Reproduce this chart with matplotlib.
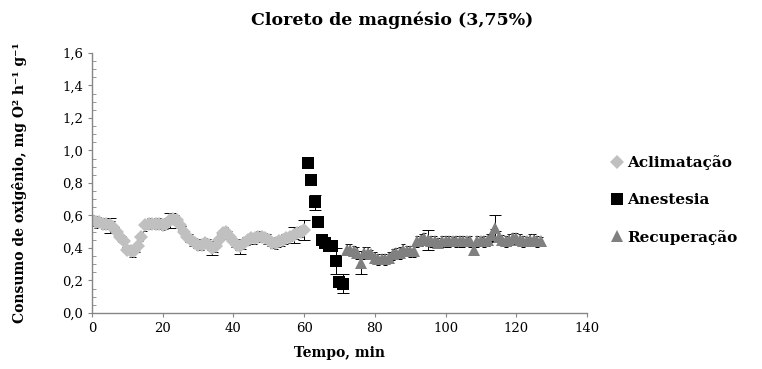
import matplotlib
matplotlib.use("Agg")
import matplotlib.pyplot as plt
from matplotlib.ticker import MultipleLocator, FuncFormatter

# consumo de oxigênio por minuto (média e erro padrão)
acl_t = list(range(0, 61))
acl_v = [0.57, 0.56, 0.56, 0.55, 0.55, 0.54, 0.53, 0.50, 0.47, 0.44,
         0.39, 0.38, 0.38, 0.41, 0.47, 0.54, 0.55, 0.55, 0.55, 0.55,
         0.54, 0.55, 0.57, 0.58, 0.57, 0.54, 0.50, 0.47, 0.45, 0.43,
         0.42, 0.42, 0.43, 0.42, 0.40, 0.41, 0.45, 0.49, 0.50, 0.47,
         0.44, 0.42, 0.41, 0.43, 0.45, 0.46, 0.46, 0.47, 0.47, 0.46,
         0.45, 0.43, 0.43, 0.44, 0.45, 0.46, 0.47, 0.48, 0.49, 0.50, 0.51]
acl_e = [0.035, 0.035, 0.03, 0.035, 0.035, 0.045, 0.035, 0.03, 0.035, 0.035,
         0.03, 0.035, 0.035, 0.035, 0.03, 0.035, 0.035, 0.03, 0.035, 0.035,
         0.03, 0.035, 0.045, 0.035, 0.035, 0.03, 0.035, 0.035, 0.035, 0.03,
         0.035, 0.035, 0.03, 0.035, 0.045, 0.035, 0.035, 0.035, 0.03, 0.035,
         0.035, 0.035, 0.045, 0.035, 0.03, 0.035, 0.035, 0.035, 0.03, 0.035,
         0.035, 0.03, 0.035, 0.035, 0.035, 0.035, 0.03, 0.05, 0.035, 0.035, 0.06]

ane_t = list(range(61, 72))
ane_v = [0.92, 0.82, 0.68, 0.56, 0.45, 0.43, 0.41, 0.41, 0.32, 0.19, 0.18]
ane_e = [0.03, 0.03, 0.045, 0.03, 0.03, 0.03, 0.03, 0.03, 0.08, 0.03, 0.06]

rec_t = list(range(72, 128))
rec_v = [0.39, 0.39, 0.38, 0.37, 0.31, 0.37, 0.37, 0.36, 0.34, 0.33,
         0.33, 0.33, 0.34, 0.36, 0.37, 0.37, 0.39, 0.38, 0.38, 0.38,
         0.44, 0.45, 0.46, 0.45, 0.44, 0.44, 0.43, 0.44, 0.44, 0.44,
         0.44, 0.44, 0.44, 0.44, 0.44, 0.44, 0.39, 0.44, 0.44, 0.44,
         0.45, 0.48, 0.52, 0.47, 0.45, 0.44, 0.45, 0.46, 0.46, 0.45,
         0.44, 0.44, 0.45, 0.45, 0.44, 0.44]
rec_e = [0.035, 0.035, 0.03, 0.035, 0.07, 0.035, 0.035, 0.03, 0.035, 0.035,
         0.03, 0.035, 0.035, 0.035, 0.03, 0.035, 0.035, 0.03, 0.035, 0.035,
         0.035, 0.035, 0.03, 0.06, 0.035, 0.035, 0.03, 0.035, 0.035, 0.035,
         0.03, 0.035, 0.035, 0.035, 0.03, 0.035, 0.035, 0.035, 0.03, 0.035,
         0.035, 0.035, 0.085, 0.035, 0.03, 0.035, 0.035, 0.035, 0.03, 0.035,
         0.035, 0.03, 0.035, 0.035, 0.035, 0.03]

plt.rcParams['font.family'] = 'DejaVu Serif'
fig = plt.figure(figsize=(7.62, 3.69), dpi=100)
ax = fig.add_axes([0.1207, 0.1518, 0.6496, 0.7046])

series = [
    (acl_t, acl_v, acl_e, 'D', 7.0, '#C0C0C0', 'Aclimatação'),
    (ane_t, ane_v, ane_e, 's', 8.0, '#000000', 'Anestesia'),
    (rec_t, rec_v, rec_e, '^', 9.0, '#808080', 'Recuperação'),
]
for t, v, e, mk, ms, col, lab in series:
    # barras de erro por baixo dos marcadores; as maiores com traço mais largo
    big = [i for i, x in enumerate(e) if x >= 0.045]
    small = [i for i, x in enumerate(e) if x < 0.045]
    for idx, cap in ((small, 1.5), (big, 4)):
        ax.errorbar([t[i] for i in idx], [v[i] for i in idx],
                    yerr=[e[i] for i in idx], fmt='none', ecolor='black',
                    elinewidth=0.7, capsize=cap, capthick=0.7, zorder=1)
    ax.plot(t, v, linestyle='none', marker=mk, markersize=ms,
            color=col, markeredgewidth=0, label=lab, zorder=2)

ax.set_xlim(0, 140)
ax.set_ylim(0, 1.6)
ax.xaxis.set_major_locator(MultipleLocator(20))
ax.yaxis.set_major_locator(MultipleLocator(0.2))
ax.yaxis.set_minor_locator(MultipleLocator(0.05))
ax.yaxis.set_major_formatter(FuncFormatter(lambda y, p: f"{y:.1f}".replace('.', ',')))

for side in ['top', 'right']:
    ax.spines[side].set_visible(False)
for side in ['left', 'bottom']:
    ax.spines[side].set_color('#868686')
    ax.spines[side].set_linewidth(1.0)
ax.tick_params(axis='both', which='major', direction='out', length=3,
               color='#868686', labelsize=9.5)
ax.tick_params(axis='y', which='minor', direction='in', length=3, color='#868686')

ax.set_xlabel('Tempo, min', fontsize=10, fontweight='bold', labelpad=8)
ax.set_ylabel('Consumo de oxigênio, mg O² h⁻¹ g⁻¹', fontsize=10,
              fontweight='bold', labelpad=25)
fig.text(0.514, 0.946, 'Cloreto de magnésio (3,75%)', ha='center', va='center',
         fontsize=12.5, fontweight='bold')

ax.legend(loc='center left', bbox_to_anchor=(1.02, 0.435), frameon=False,
          labelspacing=1.5, handlelength=0.8, handletextpad=0.3,
          prop={'weight': 'bold', 'size': 11})

fig.savefig('out.png', dpi=100)
